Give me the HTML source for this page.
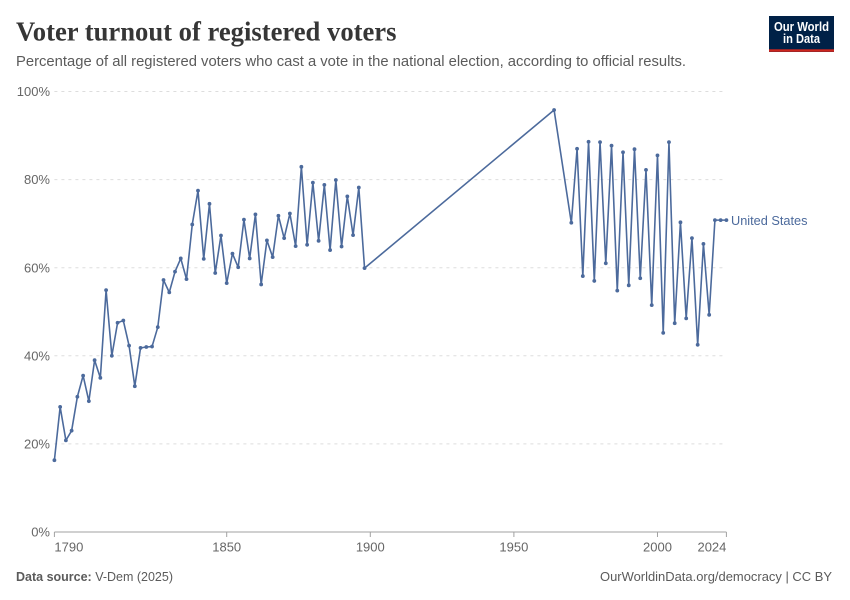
<!DOCTYPE html>
<html lang="en">
<head>
<meta charset="utf-8">
<title>Voter turnout of registered voters</title>
<style>
html,body{margin:0;padding:0;background:#fff;width:850px;height:600px;overflow:hidden}
svg{display:block}
text{font-family:"Liberation Sans",sans-serif}
</style>
</head>
<body>
<svg id="chart" xmlns="http://www.w3.org/2000/svg" width="850" height="600" viewBox="0 0 850 600">
  <rect x="0" y="0" width="850" height="600" fill="#ffffff"/>
  <text x="16" y="40.5" font-size="27" font-weight="700" fill="#363636" textLength="380.5" lengthAdjust="spacingAndGlyphs" style='font-family:"Liberation Serif",serif'>Voter turnout of registered voters</text>
  <text x="16" y="66" font-size="14.5" fill="#5b5b5b" textLength="670" lengthAdjust="spacingAndGlyphs">Percentage of all registered voters who cast a vote in the national election, according to official results.</text>
  <g>
    <rect x="769" y="16" width="65" height="36" fill="#002147"/>
    <rect x="769" y="49.3" width="65" height="2.5" fill="#ce261e"/>
    <text x="801.5" y="31" text-anchor="middle" font-size="12.5" font-weight="700" fill="#ffffff" textLength="55" lengthAdjust="spacingAndGlyphs">Our World</text>
    <text x="801.5" y="43" text-anchor="middle" font-size="12.5" font-weight="700" fill="#ffffff" textLength="37" lengthAdjust="spacingAndGlyphs">in Data</text>
  </g>
  <g id="grid"></g>
  <g id="yLabels"></g>
  <g id="xAxis"></g>
  <g id="series"></g>
  <text id="seriesLabel" x="731" y="226" font-size="12.5" fill="#4c6a9c" textLength="76.5" lengthAdjust="spacingAndGlyphs">United States</text>
  <text x="16" y="581" font-size="12.5" fill="#5b5b5b" textLength="157" lengthAdjust="spacingAndGlyphs"><tspan font-weight="700">Data source:</tspan> V-Dem (2025)</text>
  <text x="832" y="581" text-anchor="end" font-size="12.5" fill="#5b5b5b" textLength="232" lengthAdjust="spacingAndGlyphs">OurWorldinData.org/democracy | CC BY</text>
</svg>
<script>
const years = [1790,1792,1794,1796,1798,1800,1802,1804,1806,1808,1810,1812,1814,1816,1818,1820,1822,1824,1826,1828,1830,1832,1834,1836,1838,1840,1842,1844,1846,1848,1850,1852,1854,1856,1858,1860,1862,1864,1866,1868,1870,1872,1874,1876,1878,1880,1882,1884,1886,1888,1890,1892,1894,1896,1898,1964,1970,1972,1974,1976,1978,1980,1982,1984,1986,1988,1990,1992,1994,1996,1998,2000,2002,2004,2006,2008,2010,2012,2014,2016,2018,2020,2022,2024];
const turnout = [16.3,28.4,20.8,23.0,30.7,35.5,29.7,39.0,35.0,54.9,40.0,47.5,48.0,42.3,33.1,41.8,42.0,42.1,46.5,57.2,54.4,59.1,62.1,57.4,69.8,77.5,62.0,74.5,58.8,67.3,56.5,63.2,60.1,70.9,62.1,72.1,56.2,66.2,62.4,71.8,66.7,72.3,64.9,82.9,65.2,79.3,66.1,78.8,64.0,79.9,64.8,76.2,67.4,78.2,59.9,95.8,70.2,87.0,58.1,88.6,57.0,88.5,61.0,87.7,54.8,86.2,56.0,86.9,57.6,82.2,51.5,85.5,45.2,88.5,47.4,70.3,48.5,66.7,42.5,65.4,49.3,70.8,70.8,70.8];
const yTicks = [0,20,40,60,80,100];
const xTicks = [1790,1850,1900,1950,2000,2024];

const NS = 'http://www.w3.org/2000/svg';
const plot = {left:54.4, right:726.4, top:91.5, bottom:532};
const xDomain = [1790, 2024];
const yDomain = [0, 100];
function xScale(v){ return plot.left + (v - xDomain[0]) / (xDomain[1] - xDomain[0]) * (plot.right - plot.left); }
function yScale(v){ return plot.bottom - (v - yDomain[0]) / (yDomain[1] - yDomain[0]) * (plot.bottom - plot.top); }
function make(tag, attrs, parent){
  const el = document.createElementNS(NS, tag);
  for (const k in attrs) el.setAttribute(k, attrs[k]);
  parent.appendChild(el);
  return el;
}

const grid = document.getElementById('grid');
const yLabels = document.getElementById('yLabels');
yTicks.forEach(function(t){
  if (t !== 0) {
    const line = make('line', {x1:plot.left, x2:plot.right, y1:yScale(t), y2:yScale(t), stroke:'#dddddd', 'stroke-width':1, 'stroke-dasharray':'3,4'}, grid);
    
    
  }
  const label = make('text', {x:50, y:yScale(t) + 4.6, 'text-anchor':'end', 'font-size':13, fill:'#666666'}, yLabels);
  label.textContent = t + '%';
  
  
});

const xAxis = document.getElementById('xAxis');
const axisLine = make('line', {x1:plot.left, x2:plot.right, y1:plot.bottom, y2:plot.bottom, stroke:'#a1a1a1', 'stroke-width':1}, xAxis);


xTicks.forEach(function(t, i){
  const x = xScale(t);
  const tick = make('line', {x1:x, x2:x, y1:plot.bottom, y2:plot.bottom + 5, stroke:'#a1a1a1', 'stroke-width':1}, xAxis);
  
  
  let anchor = 'middle';
  if (i === 0) anchor = 'start';
  if (i === xTicks.length - 1) anchor = 'end';
  const label = make('text', {x:x, y:551.5, 'text-anchor':anchor, 'font-size':13, fill:'#666666'}, xAxis);
  label.textContent = t;
  
  
});

const series = document.getElementById('series');
const points = years.map(function(y, i){ return xScale(y).toFixed(2) + ',' + yScale(turnout[i]).toFixed(2); }).join(' ');
const pathLine = make('polyline', {points:points, fill:'none', stroke:'#4c6a9c', 'stroke-width':1.6, 'stroke-linejoin':'round'}, series);


years.forEach(function(y, i){
  const dot = make('circle', {cx:xScale(y), cy:yScale(turnout[i]), r:1.9, fill:'#4c6a9c'}, series);
  
  
});
document.getElementById('seriesLabel').setAttribute('y', yScale(turnout[turnout.length - 1]) + 5);
</script>
</body>
</html>
